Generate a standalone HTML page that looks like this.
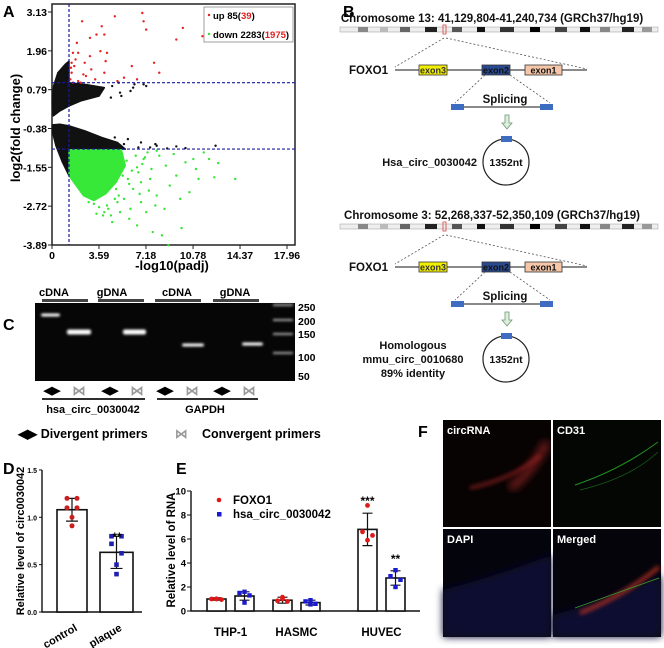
<!DOCTYPE html>
<html><head><meta charset="utf-8"><style>
html,body{margin:0;padding:0;background:#fff}
svg{display:block;font-family:"Liberation Sans",Arial,sans-serif;font-weight:bold}
</style></head><body>
<svg id="fig" width="664" height="648" viewBox="0 0 664 648" xmlns="http://www.w3.org/2000/svg">
<defs>
<filter id="blur1" x="-50%" y="-200%" width="200%" height="500%"><feGaussianBlur stdDeviation="1.2"/></filter>
<filter id="blur2"><feGaussianBlur stdDeviation="2"/></filter>
<filter id="blur3"><feGaussianBlur stdDeviation="4"/></filter>
</defs>

<g id="panelA">
<text x="3" y="17" font-size="16">A</text>
<rect x="52" y="4" width="243" height="241" fill="#fff" stroke="#222" stroke-width="1.5"/>
<g id="volc"></g>
<text transform="translate(20,128) rotate(-90)" text-anchor="middle" font-size="13">log2(fold change)</text>
<text x="172" y="270" text-anchor="middle" font-size="13">-log10(padj)</text>
<rect x="204" y="7" width="89" height="35" fill="#fff" stroke="#888" stroke-width="0.8"/>
<circle cx="209" cy="15" r="1.2" fill="#e02020"/>
<text x="213" y="19" font-size="9.5">up 85(<tspan fill="#e02020">39</tspan>)</text>
<circle cx="209" cy="34" r="1.2" fill="#33e033"/>
<text x="213" y="38" font-size="9.5">down 2283(<tspan fill="#e02020">1975</tspan>)</text>
</g>

<g id="panelB">
<text x="343" y="17" font-size="16">B</text>
<g id="diag"></g>
</g>

<g id="panelC">
<text x="3" y="330" font-size="16">C</text>
<g font-size="11">
<text x="54" y="296" text-anchor="middle">cDNA</text>
<text x="112" y="296" text-anchor="middle">gDNA</text>
<text x="177" y="296" text-anchor="middle">cDNA</text>
<text x="235" y="296" text-anchor="middle">gDNA</text>
</g>
<rect x="35" y="303" width="260" height="78" fill="#060606"/>
<g id="gel"></g>
<g font-size="10.5">
<text x="298" y="311">250</text>
<text x="298" y="325">200</text>
<text x="298" y="338">150</text>
<text x="298" y="361">100</text>
<text x="298" y="380">50</text>
</g>
<g id="primers"></g>
<line x1="42" y1="399" x2="145" y2="399" stroke="#111" stroke-width="1.8"/>
<line x1="157" y1="399" x2="258" y2="399" stroke="#111" stroke-width="1.8"/>
<text x="93" y="413" text-anchor="middle" font-size="11">hsa_circ_0030042</text>
<text x="205" y="413" text-anchor="middle" font-size="11">GAPDH</text>
<text x="18" y="438" font-size="12.5">◀▶ Divergent primers</text>
<text x="175" y="438" font-size="12.5" fill="#999">⋈</text>
<text x="202" y="438" font-size="12.5">Convergent primers</text>
</g>

<g id="panelD">
<text x="3" y="474" font-size="16">D</text>
<g id="chartD"></g>
<text transform="translate(24,541) rotate(-90)" text-anchor="middle" font-size="11">Relative level of circ0030042</text>
</g>

<g id="panelE">
<text x="176" y="474" font-size="16">E</text>
<g id="chartE"></g>
<text transform="translate(175,550) rotate(-90)" text-anchor="middle" font-size="11.5">Relative level of RNA</text>
<circle cx="219" cy="500" r="2.3" fill="#e01818"/>
<text x="233" y="504" font-size="11.5">FOXO1</text>
<rect x="217" y="512" width="4.5" height="4.5" fill="#1a1ad0"/>
<text x="233" y="518" font-size="11.5">hsa_circ_0030042</text>
</g>

<g id="panelF">
<text x="418" y="437" font-size="16">F</text>
<rect x="443" y="420" width="108" height="107" fill="#070303"/>
<rect x="553" y="420" width="108" height="107" fill="#030603"/>
<rect x="443" y="529" width="108" height="108" fill="#04040c"/>
<rect x="553" y="529" width="108" height="108" fill="#05040a"/>
<path d="M510,488 Q530,475 547,442" stroke="#902020" stroke-width="9" fill="none" filter="url(#blur3)" opacity="0.7"/>
<path d="M470,488 Q515,478 540,455" stroke="#a02424" stroke-width="3" fill="none" filter="url(#blur2)" opacity="0.8"/>
<path d="M575,485 Q620,470 658,442" stroke="#30b030" stroke-width="1" fill="none" opacity="0.8"/>
<path d="M580,490 Q630,478 658,452" stroke="#228822" stroke-width="0.7" fill="none" opacity="0.7"/>
<path d="M443,590 Q500,575 551,555 L551,637 L443,637 Z" fill="#0a0a30" filter="url(#blur3)"/>
<path d="M553,615 Q610,600 661,575 L661,637 L553,637 Z" fill="#0a0a30" filter="url(#blur3)"/>
<path d="M580,613 Q625,595 659,567" stroke="#a02a20" stroke-width="4" fill="none" filter="url(#blur2)"/>
<path d="M575,608 Q625,590 659,578" stroke="#3a9a2a" stroke-width="0.8" fill="none"/>
<g fill="#fff" font-size="11">
<text x="447" y="434">circRNA</text>
<text x="557" y="434">CD31</text>
<text x="447" y="543">DAPI</text>
<text x="557" y="543">Merged</text>
</g>
</g>
</svg>
<script>
var NS='http://www.w3.org/2000/svg';
function mk(p,tag,a){var e=document.createElementNS(NS,tag);for(var k in a)e.setAttribute(k,a[k]);p.appendChild(e);return e;}

/* ---------- Panel A data ---------- */
var volcXTicks=[0,3.59,7.18,10.78,14.37,17.96];
var volcYTicks=[3.13,1.96,0.79,-0.38,-1.55,-2.72,-3.89];
var redX=[6.9,4.8,7.0,2.3,3.8,7.2,10.0,11.5,9.5,3.4,4.0,2.9,1.9,2.0,1.6,2.9,3.7,4.2,2.5,4.1,6.1,7.8,1.5,1.7,3.0,2.6,4.0,8.2,1.4,1.6,2.0,3.3,5.5,5.0,6.5,1.5,2.2,1.8,1.45,2.4];
var redY=[3.1,3.0,2.85,2.85,2.7,2.6,2.65,2.4,2.3,2.45,2.45,2.35,2.2,1.9,1.9,1.8,1.95,1.9,1.6,1.65,1.5,1.6,1.6,1.5,1.4,1.2,1.3,1.3,1.1,1.0,1.05,1.1,1.15,1.05,1.1,1.3,1.0,1.7,1.45,1.25];
var greenX=[14.0,12.4,12.7,9.9,8.4,7.7,8.9,6.5,11.2,11.0,10.2,9.0,8.0,7.2,6.8,5.9,5.2,4.6,10.5,9.5,8.7,7.5,6.2,5.5,4.3,3.9,7.0,8.2,9.3,10.8,6.6,5.8,4.9,12.0,11.6,7.9,6.0,5.0,8.6,9.8,
 6.4,6.9,7.3,6.1,5.7,6.8,7.6,5.4,4.8,4.2,3.6,3.2,4.5,5.1,5.9,6.5,7.1,4.0,3.4,2.8,8.0,7.4,6.7,5.3,4.7];
var greenY=[-1.9,-1.85,-1.42,-3.38,-3.6,-3.5,-3.9,-3.3,-1.9,-1.6,-1.4,-2.1,-2.4,-2.9,-2.6,-3.1,-2.9,-3.2,-2.3,-1.8,-1.5,-1.9,-2.2,-2.5,-2.8,-3.0,-1.3,-1.2,-1.15,-1.3,-1.7,-1.9,-2.2,-1.3,-1.1,-2.7,-2.8,-2.6,-2.8,-2.5,
 -1.2,-1.45,-1.1,-1.65,-1.35,-2.0,-1.6,-1.8,-2.5,-2.7,-2.75,-2.65,-3.0,-2.4,-2.05,-1.55,-1.25,-2.9,-2.95,-2.6,-1.05,-2.25,-2.35,-1.15,-1.05];
var blackX=[7.5,8.0,8.8,9.5,10.2,12.5,6.8,7.9,5.8,6.3,4.6,5.1,6.0,7.2,5.3,5.5,6.6,4.8,5.2,6.2,7.0,4.5];
var blackY=[-0.95,-0.9,-0.98,-0.92,-0.97,-0.9,-0.8,-0.85,-0.7,0.95,0.9,1.0,0.75,0.9,0.6,-0.85,-0.95,-0.65,0.7,0.85,0.95,0.55];
var upperCloudX=[0.1,0.03,0.12,0.45,1.0,1.3,1.3,2.5,4.0,3.6,2.2,1.3,0.6];
var upperCloudY=[0.0,0.4,0.9,1.3,1.55,1.65,1.0,0.95,0.85,0.6,0.45,0.3,0.15];
var lowerCloudX=[0.02,0.6,1.3,2.5,3.8,5.0,5.6,1.3,1.3,0.8,0.3,0.05];
var lowerCloudY=[-0.27,-0.25,-0.3,-0.45,-0.65,-0.8,-1.0,-1.0,-1.8,-1.4,-0.9,-0.5];
var greenCloudX=[1.3,5.3,5.6,4.9,4.1,3.2,2.4,1.3];
var greenCloudY=[-1.02,-1.02,-1.5,-2.0,-2.35,-2.55,-2.4,-1.8];
var padjCut=1.3, fcUp=1, fcDown=-1;

function xs(v){return 52+v*235/17.96;}
function ys(v){return 12+(3.13-v)*233/7.02;}
var V=document.getElementById('volc');
function cloud(X,Y,fill,name){var pts=X.map(function(x,i){return xs(x)+','+ys(Y[i]);}).join(' ');
 var p=mk(V,'polygon',{points:pts,fill:fill,stroke:fill,'stroke-width':1.5,'stroke-linejoin':'round'});
 
 }
cloud(upperCloudX,upperCloudY,'#111','black-cloud-upper');
cloud(lowerCloudX,lowerCloudY,'#111','black-cloud-lower');
cloud(greenCloudX,greenCloudY,'#38e838','green-cloud');
function pts(X,Y,fill,name){for(var i=0;i<X.length;i++){var c=mk(V,'circle',{cx:xs(X[i]),cy:ys(Y[i]),r:1.2,fill:fill});
 
 }}
pts(blackX,blackY,'#111','point-ns');
pts(redX,redY,'#e82020','point-up');
pts(greenX,greenY,'#33e633','point-down');
var l1=mk(V,'line',{x1:xs(padjCut),x2:xs(padjCut),y1:4,y2:245,stroke:'#1a1aa0','stroke-dasharray':'3,2','stroke-width':1.2});


[fcUp,fcDown].forEach(function(f){var l=mk(V,'line',{x1:52,x2:295,y1:ys(f),y2:ys(f),stroke:'#1a1aa0','stroke-dasharray':'3,2','stroke-width':1.2});
 
 });
volcYTicks.forEach(function(t){var y=ys(t);
 var tk=mk(V,'line',{x1:48,x2:52,y1:y,y2:y,stroke:'#222'});
 
 
 var tx=mk(V,'text',{x:47,y:y+4,'text-anchor':'end','font-size':10.5});tx.textContent=t.toFixed(2);
 
 });
volcXTicks.forEach(function(t){var x=xs(t);
 var tk=mk(V,'line',{x1:x,x2:x,y1:245,y2:249,stroke:'#222'});
 
 
 var tx=mk(V,'text',{x:x,y:259,'text-anchor':'middle','font-size':10.5});tx.textContent=t===0?'0':t.toFixed(2);
 
 });

/* ---------- Panel B diagram ---------- */
var D=document.getElementById('diag');
function T(x,y,s,txt,anchor,name,fill){var t=mk(D,'text',{x:x,y:y,'font-size':s,'text-anchor':anchor||'start',fill:fill||'#111'});t.textContent=txt;
 
 return t;}
function block(oy,title,titleName,isMouse){
 T(492,oy+22,11.5,title,'middle',titleName);
 var bar=mk(D,'rect',{x:340,y:oy+27,width:318,height:5,fill:'#eee',stroke:'#999','stroke-width':0.5});
 
 
 var bands=[[358,10,'#888'],[380,8,'#bbb'],[400,10,'#666'],[425,12,'#222'],[452,10,'#555'],[477,8,'#111'],[500,14,'#333'],[530,10,'#000'],[555,12,'#444'],[580,10,'#111'],[600,10,'#888'],[622,12,'#222'],[642,10,'#999']];
 bands.forEach(function(b){var r=mk(D,'rect',{x:b[0],y:oy+27,width:b[1],height:5,fill:b[2]});
  
  });
 var mark=mk(D,'rect',{x:443,y:oy+25,width:3,height:9,fill:'none',stroke:'#e04040','stroke-width':0.8});
 
 
 var g=oy+70;
 [[444,oy+38,395,g-3],[446,oy+38,587,g-1]].forEach(function(l){var e=mk(D,'line',{x1:l[0],y1:l[1],x2:l[2],y2:l[3],stroke:'#555','stroke-dasharray':'2,2','stroke-width':0.8});
  
  });
 T(349,g+4,11.5,'FOXO1','start','gene-name');
 var gl=mk(D,'line',{x1:395,y1:g,x2:587,y2:g,stroke:'#444','stroke-width':1.2});
 
 
 [[419,28,'#f2ee00','exon3','#333'],[482,28,'#2a4a90','exon2','#111'],[525,37,'#f5c6a8','exon1','#111']].forEach(function(e){
  var r=mk(D,'rect',{x:e[0],y:g-5,width:e[1],height:10,fill:e[2],stroke:'#333','stroke-width':0.8});
  
  
  T(e[0]+e[1]/2,g+3.5,9,e[3],'middle',e[3]+'-label',e[4]);});
 var s=g+37;
 [[485,g+5,455,s-4],[510,g+5,550,s-4]].forEach(function(l){var e=mk(D,'line',{x1:l[0],y1:l[1],x2:l[2],y2:l[3],stroke:'#555','stroke-dasharray':'2,2','stroke-width':0.8});
  
  });
 var sl=mk(D,'line',{x1:463,y1:s,x2:541,y2:s,stroke:'#444','stroke-width':1.2});
 
 
 [451,540].forEach(function(x){var r=mk(D,'rect',{x:x,y:s-3,width:13,height:6,fill:'#3d6cc0'});
  
  });
 T(505,s-4,11.5,'Splicing','middle','splicing-label');
 var a=mk(D,'path',{d:'M505,'+(s+8)+' h4 v8 h3 l-5,6 l-5,-6 h3 z',fill:'#dfeee0',stroke:'#6a9a70','stroke-width':0.8});
 
 
 var cy=s+55;
 var c=mk(D,'circle',{cx:506,cy:cy,r:23,fill:'none',stroke:'#222','stroke-width':1.2});
 
 
 var r2=mk(D,'rect',{x:501,y:cy-26,width:11,height:6,fill:'#3d6cc0'});
 
 
 T(506,cy+4,10.5,'1352nt','middle','circrna-length');
 if(!isMouse){T(477,cy+4,11,'Hsa_circ_0030042','end','circrna-name');}
 else{T(413,cy-10,11,'Homologous','middle','homolog-label');
  T(413,cy+4,11,'mmu_circ_0010680','middle','mouse-circrna-name');
  T(413,cy+18,11,'89% identity','middle','identity-label');}
}
block(0,'Chromosome 13: 41,129,804-41,240,734 (GRCh37/hg19)','chromosome-13-title',false);
block(197,'Chromosome 3: 52,268,337-52,350,109 (GRCh37/hg19)','chromosome-3-title',true);

/* ---------- Panel C gel ---------- */
var G=document.getElementById('gel');
var bandX=[41,67,123,182,242], bandW=[19,24,23,22,21], bandY=[315,332,332,345,344], bandH=[3,5,5,3,3];
for(var i=0;i<bandX.length;i++){var b=mk(G,'rect',{x:bandX[i],y:bandY[i]-bandH[i]/2,width:bandW[i],height:bandH[i],rx:2,fill:'#fff',filter:'url(#blur1)'});
 
 }
var ladderY=[305,320,334,353];
ladderY.forEach(function(y){var b=mk(G,'rect',{x:273,y:y-1,width:20,height:2,fill:'#aaa',filter:'url(#blur1)'});
 
 });
[[42,18],[98,20],[155,20],[213,20]].forEach(function(l){var e=mk(G,'rect',{x:l[0],y:299,width:46,height:3,fill:'#444'});
 
 });
var P=document.getElementById('primers');
[52,110,165,222].forEach(function(x){var t=mk(P,'text',{x:x,y:394,'font-size':11,'text-anchor':'middle'});t.textContent='◀▶';
 
 });
[79,137,192,249].forEach(function(x){var t=mk(P,'text',{x:x,y:395,'font-size':13,'text-anchor':'middle',fill:'#999'});t.textContent='⋈';
 
 });

/* ---------- Panel D ---------- */
var dCats=['control','plaque'];
var dMeans=[1.08,0.63];
var dSD=[0.12,0.17];
var dPoints=[[1.2,1.2,1.1,1.1,1.0,0.91],[0.8,0.8,0.72,0.62,0.5,0.4]];
var dTicks=[0,0.5,1.0,1.5];
var CD=document.getElementById('chartD');
function dy(v){return 612-v*94.7;}
var dBarX=[57,100], dBarW=[30,33];
var ax=mk(CD,'path',{d:'M42,470 V612 H142',fill:'none',stroke:'#111','stroke-width':1.4});


dTicks.forEach(function(t){var tk=mk(CD,'line',{x1:39,x2:42,y1:dy(t),y2:dy(t),stroke:'#111'});
 
 
 var tx=mk(CD,'text',{x:37,y:dy(t)+3,'text-anchor':'end','font-size':7});tx.textContent=t.toFixed(1);
 
 });
dCats.forEach(function(c,i){var x=dBarX[i],w=dBarW[i],cx=x+w/2;
 var r=mk(CD,'rect',{x:x,y:dy(dMeans[i]),width:w,height:612-dy(dMeans[i]),fill:'#fff',stroke:'#111','stroke-width':1.6});
 
 
 var e=mk(CD,'path',{d:'M'+cx+','+dy(dMeans[i]+dSD[i])+'V'+dy(dMeans[i]-dSD[i])+'M'+(cx-6)+','+dy(dMeans[i]+dSD[i])+'h12M'+(cx-6)+','+dy(dMeans[i]-dSD[i])+'h12',stroke:'#111','stroke-width':1.2,fill:'none'});
 
 
 var off=[-5,5,-5,5,0,0];
 dPoints[i].forEach(function(v,j){var p;
  if(i===0){p=mk(CD,'circle',{cx:cx+off[j],cy:dy(v),r:2.5,fill:'#c82020'});}
  else{p=mk(CD,'rect',{x:cx+off[j]-2.3,y:dy(v)-2.3,width:4.6,height:4.6,fill:'#2020b0'});}
  
  });
 var lab=mk(CD,'text',{transform:'translate('+(cx+6)+',630) rotate(-30)','text-anchor':'end','font-size':11});lab.textContent=c;
 
 });
var st=mk(CD,'text',{x:117,y:541,'text-anchor':'middle','font-size':12});st.textContent='**';



/* ---------- Panel E ---------- */
var eCats=['THP-1','HASMC','HUVEC'];
var eFoxo=[1.0,0.9,6.8];
var eFoxoSD=[0.1,0.25,1.35];
var eCirc=[1.25,0.7,2.75];
var eCircSD=[0.35,0.2,0.6];
var eFoxoPts=[[1.0,1.0,0.95,1.02],[1.15,0.85,0.8,1.0],[8.8,6.6,6.3,5.9]];
var eCircPts=[[1.6,1.5,1.3,0.7],[0.9,0.8,0.6,0.55],[3.4,2.9,2.6,2.0]];
var eTicks=[0,2,4,6,8,10];
var eStars=['','','***'], eStarsC=['','','**'];
var CE=document.getElementById('chartE');
function ey(v){return 611-v*12;}
var eGroupX=[207,273,358], bw=19, gap=9;
var eax=mk(CE,'path',{d:'M191,491 V611 H420',fill:'none',stroke:'#111','stroke-width':1.4});


eTicks.forEach(function(t){var tk=mk(CE,'line',{x1:187,x2:191,y1:ey(t),y2:ey(t),stroke:'#111'});
 
 
 var tx=mk(CE,'text',{x:186,y:ey(t)+3.5,'text-anchor':'end','font-size':9.5});tx.textContent=t;
 
 });
function eBar(x,mean,sd,pts,isCirc,name,star){var cx=x+bw/2;
 var r=mk(CE,'rect',{x:x,y:ey(mean),width:bw,height:611-ey(mean),fill:'#fff',stroke:'#111','stroke-width':1.6});
 
 
 var e=mk(CE,'path',{d:'M'+cx+','+ey(mean+sd)+'V'+ey(Math.max(0,mean-sd))+'M'+(cx-5)+','+ey(mean+sd)+'h10M'+(cx-5)+','+ey(Math.max(0,mean-sd))+'h10',stroke:'#111','stroke-width':1.2,fill:'none'});
 
 
 var off=[0,-5,5,0];
 pts.forEach(function(v,j){var p;
  if(!isCirc){p=mk(CE,'circle',{cx:cx+off[j],cy:ey(v),r:2.4,fill:'#e01818'});}
  else{p=mk(CE,'rect',{x:cx+off[j]-2.2,y:ey(v)-2.2,width:4.4,height:4.4,fill:'#1a1ad0'});}
  
  });
 if(star){var s=mk(CE,'text',{x:cx,y:ey(mean+sd)-8,'text-anchor':'middle','font-size':12});s.textContent=star;
  
  }}
eCats.forEach(function(c,i){var x=eGroupX[i];
 eBar(x,eFoxo[i],eFoxoSD[i],eFoxoPts[i],false,'bar-foxo1-'+c.toLowerCase(),eStars[i]);
 eBar(x+bw+gap,eCirc[i],eCircSD[i],eCircPts[i],true,'bar-circ-'+c.toLowerCase(),eStarsC[i]);
 var t=mk(CE,'text',{x:x+bw+gap/2,y:636,'text-anchor':'middle','font-size':11.5});t.textContent=c;
 
 });
</script>
</body></html>
